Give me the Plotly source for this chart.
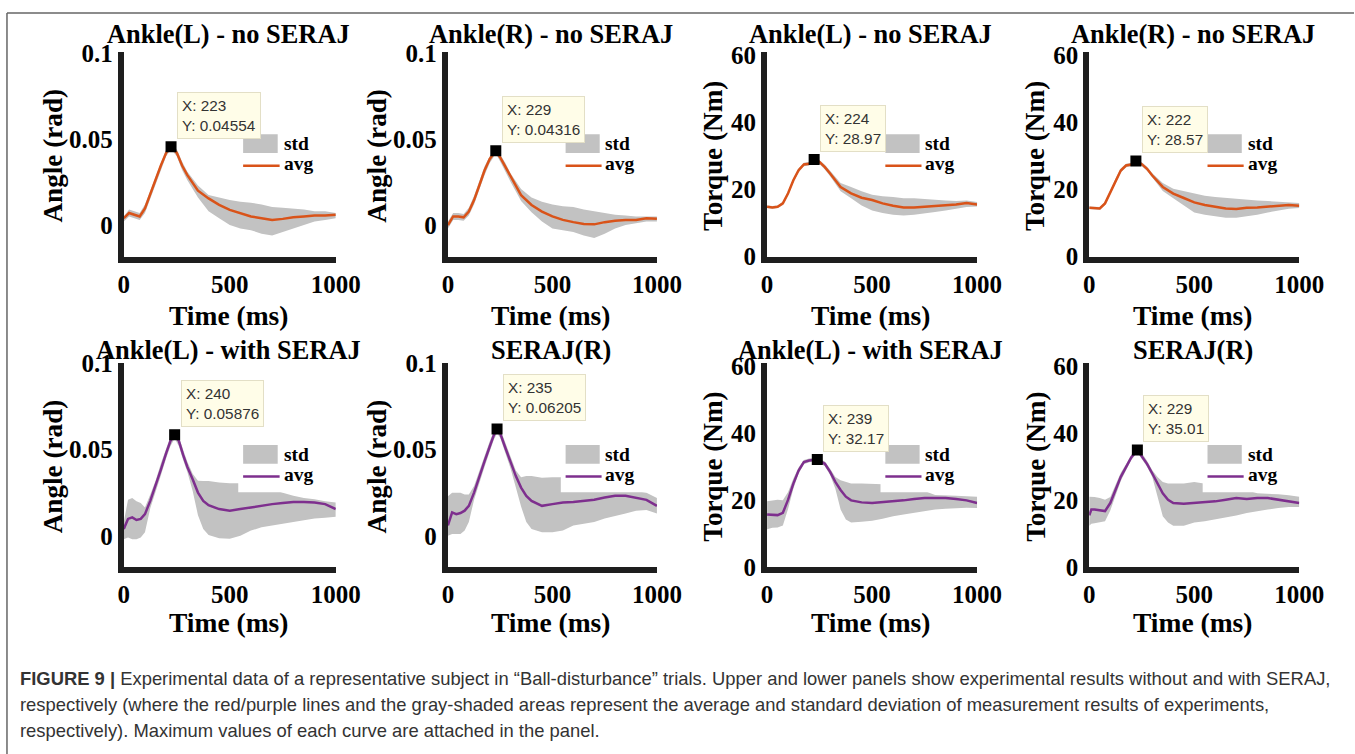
import plotly.graph_objects as go

# ---------------- data ----------------
titles = ["Ankle(L) - no SERAJ", "Ankle(R) - no SERAJ", "Ankle(L) - no SERAJ", "Ankle(R) - no SERAJ",
          "Ankle(L) - with SERAJ", "SERAJ(R)", "Ankle(L) - with SERAJ", "SERAJ(R)"]
ylabels = ["Angle (rad)", "Angle (rad)", "Torque (Nm)", "Torque (Nm)",
           "Angle (rad)", "Angle (rad)", "Torque (Nm)", "Torque (Nm)"]
xlabel = "Time (ms)"
x_ticks = [0, 500, 1000]
angle_ticks = [0, 0.05, 0.1]
angle_ticktext = ["0", "0.05", "0.1"]
torque_ticks = [0, 20, 40, 60]

peak_x = [223, 229, 224, 222, 240, 235, 239, 229]
peak_y = ["0.04554", "0.04316", "28.97", "28.57", "0.05876", "0.06205", "32.17", "35.01"]

# Panel 1: Ankle(L) angle, no SERAJ
t1 = [0, 25, 50, 75, 100, 125, 150, 175, 200, 223, 250, 275, 300, 350, 400, 450, 500, 550, 600, 650, 700, 750, 800, 850, 900, 950, 1000]
avg1 = [0.004, 0.007, 0.006, 0.005, 0.0097, 0.018, 0.027, 0.0346, 0.042, 0.04554, 0.042, 0.0346, 0.029, 0.020, 0.0155, 0.0117, 0.0088, 0.0069, 0.005, 0.004, 0.003, 0.0036, 0.0046, 0.005, 0.0055, 0.0055, 0.006]
lo1 = [0.002, 0.005, 0.004, 0.003, 0.007, 0.015, 0.024, 0.032, 0.040, 0.0440, 0.040, 0.032, 0.026, 0.016, 0.008, 0.004, 0.000, -0.002, -0.003, -0.005, -0.006, -0.004, -0.002, 0.000, 0.002, 0.003, 0.004]
hi1 = [0.005, 0.009, 0.008, 0.007, 0.012, 0.020, 0.029, 0.037, 0.044, 0.0470, 0.044, 0.037, 0.031, 0.023, 0.0175, 0.016, 0.0145, 0.0135, 0.013, 0.012, 0.0105, 0.010, 0.0095, 0.009, 0.008, 0.008, 0.007]

# Panel 2: Ankle(R) angle, no SERAJ
t2 = [0, 25, 50, 75, 100, 125, 150, 175, 200, 229, 250, 275, 300, 350, 400, 450, 500, 550, 600, 650, 700, 750, 800, 850, 900, 950, 1000]
avg2 = [0.0, 0.005, 0.005, 0.0045, 0.0078, 0.0145, 0.023, 0.0317, 0.0384, 0.04316, 0.0393, 0.0336, 0.0279, 0.0174, 0.0117, 0.0078, 0.005, 0.003, 0.0017, 0.0006, 0.0004, 0.0017, 0.0025, 0.003, 0.003, 0.004, 0.0036]
lo2 = [-0.002, 0.003, 0.003, 0.0025, 0.0055, 0.012, 0.0205, 0.029, 0.036, 0.0415, 0.037, 0.031, 0.025, 0.014, 0.0075, 0.002, -0.002, -0.003, -0.004, -0.006, -0.0075, -0.005, -0.002, 0.000, 0.001, 0.002, 0.002]
hi2 = [0.002, 0.007, 0.007, 0.0065, 0.010, 0.017, 0.0255, 0.034, 0.040, 0.0445, 0.041, 0.036, 0.030, 0.021, 0.016, 0.0135, 0.012, 0.011, 0.0105, 0.009, 0.008, 0.007, 0.006, 0.0055, 0.005, 0.005, 0.005]

# Panel 3: Ankle(L) torque, no SERAJ
t3 = [0, 25, 50, 75, 100, 125, 150, 175, 200, 224, 250, 275, 300, 350, 400, 450, 500, 550, 600, 650, 700, 750, 800, 850, 900, 950, 1000]
avg3 = [14.9, 14.7, 14.9, 15.9, 18.9, 22.8, 25.8, 27.5, 27.7, 28.97, 28.2, 26.7, 24.8, 20.8, 18.9, 17.6, 16.9, 15.9, 15.2, 14.7, 14.7, 14.9, 15.2, 15.4, 15.6, 16.0, 15.6]
lo3 = [14.5, 14.3, 14.5, 15.4, 18.3, 22.2, 25.2, 27.0, 27.2, 28.4, 27.6, 26.0, 24.0, 19.5, 17.4, 15.3, 13.8, 13.0, 12.5, 12.3, 12.5, 12.8, 13.3, 13.8, 14.3, 14.8, 15.0]
hi3 = [15.3, 15.1, 15.3, 16.4, 19.5, 23.4, 26.4, 28.0, 28.3, 29.5, 28.8, 27.4, 25.6, 22.0, 20.8, 19.5, 18.5, 18.0, 17.8, 17.4, 17.4, 17.3, 17.0, 16.8, 16.6, 16.8, 16.3]

# Panel 4: Ankle(R) torque, no SERAJ
t4 = [0, 25, 50, 75, 100, 125, 150, 175, 200, 222, 250, 275, 300, 350, 400, 450, 500, 550, 600, 650, 700, 750, 800, 850, 900, 950, 1000]
avg4 = [14.6, 14.4, 14.4, 15.9, 19.3, 22.7, 25.7, 27.2, 27.5, 28.57, 27.6, 26.2, 24.2, 20.8, 18.8, 17.5, 16.2, 15.4, 14.9, 14.4, 14.2, 14.6, 14.7, 14.9, 15.2, 15.4, 15.2]
lo4 = [14.2, 14.0, 14.0, 15.4, 18.7, 22.1, 25.1, 26.7, 27.0, 28.0, 27.0, 25.6, 23.5, 19.6, 17.4, 15.2, 13.2, 12.5, 12.0, 11.6, 11.6, 12.0, 12.5, 13.2, 13.8, 14.3, 14.5]
hi4 = [15.0, 14.8, 14.8, 16.4, 19.9, 23.3, 26.3, 27.7, 28.0, 29.1, 28.2, 26.8, 24.9, 22.0, 20.3, 19.6, 18.8, 18.2, 17.8, 17.5, 17.2, 17.0, 16.8, 16.6, 16.4, 16.2, 16.0]

# Panel 5: Ankle(L) angle, with SERAJ
t5 = [0, 20, 40, 60, 80, 100, 125, 150, 175, 200, 220, 240, 260, 280, 300, 325, 350, 375, 400, 450, 500, 550, 600, 650, 700, 750, 800, 850, 900, 950, 1000]
avg5 = [0.004, 0.0098, 0.0107, 0.0092, 0.0098, 0.0126, 0.0203, 0.0289, 0.0385, 0.048, 0.055, 0.05876, 0.055, 0.047, 0.040, 0.0328, 0.0251, 0.0203, 0.0178, 0.0155, 0.0146, 0.0155, 0.0165, 0.0174, 0.0184, 0.019, 0.0197, 0.0197, 0.0193, 0.0184, 0.0155]
lo5 = [-0.002, -0.001, -0.002, -0.002, -0.001, 0.002, 0.016, 0.025, 0.035, 0.045, 0.052, 0.0565, 0.052, 0.044, 0.037, 0.026, 0.012, 0.004, 0.0005, -0.0015, -0.0017, 0.000, 0.003, 0.005, 0.006, 0.007, 0.008, 0.009, 0.010, 0.0105, 0.011]
hi5 = [0.008, 0.021, 0.022, 0.020, 0.019, 0.0165, 0.024, 0.032, 0.042, 0.051, 0.0575, 0.061, 0.0575, 0.050, 0.043, 0.036, 0.032, 0.0318, 0.0318, 0.031, 0.0305, 0.0305, 0.029, 0.028, 0.027, 0.025, 0.0232, 0.022, 0.0213, 0.020, 0.0193]

# Panel 6: SERAJ(R) angle
t6 = [0, 20, 40, 60, 80, 100, 125, 150, 175, 200, 220, 235, 250, 275, 300, 325, 350, 375, 400, 450, 500, 550, 600, 650, 700, 750, 800, 850, 900, 950, 1000]
avg6 = [0.006, 0.0136, 0.0126, 0.0132, 0.0146, 0.0174, 0.0251, 0.0347, 0.0433, 0.0519, 0.0586, 0.06205, 0.0596, 0.051, 0.0423, 0.0347, 0.028, 0.0232, 0.0203, 0.0174, 0.0184, 0.0193, 0.0197, 0.0201, 0.0209, 0.0222, 0.0232, 0.0232, 0.0222, 0.0209, 0.0174]
lo6 = [0.0, 0.001, 0.001, 0.001, 0.003, 0.008, 0.021, 0.031, 0.040, 0.049, 0.056, 0.0595, 0.057, 0.048, 0.039, 0.028, 0.017, 0.008, 0.004, 0.002, 0.002, 0.003, 0.006, 0.007, 0.008, 0.010, 0.0117, 0.013, 0.0146, 0.015, 0.013]
hi6 = [0.023, 0.025, 0.025, 0.025, 0.024, 0.024, 0.029, 0.038, 0.046, 0.055, 0.061, 0.0645, 0.062, 0.054, 0.045, 0.038, 0.034, 0.0347, 0.0347, 0.0337, 0.034, 0.034, 0.031, 0.029, 0.028, 0.027, 0.0255, 0.026, 0.026, 0.025, 0.022]

# Panel 7: Ankle(L) torque, with SERAJ
t7 = [0, 25, 50, 75, 100, 125, 150, 175, 200, 239, 275, 300, 325, 350, 375, 400, 450, 500, 550, 600, 650, 700, 750, 800, 850, 900, 950, 1000]
avg7 = [15.8, 15.6, 15.6, 16.3, 20.2, 25.0, 28.9, 31.4, 31.9, 32.17, 30.9, 28.5, 25.5, 23.1, 21.1, 20.0, 19.4, 19.2, 19.4, 19.7, 20.0, 20.4, 20.7, 20.7, 20.7, 20.4, 20.0, 19.2]
lo7 = [11.4, 11.8, 11.9, 12.5, 17.5, 23.5, 28.0, 30.8, 31.4, 31.6, 30.2, 27.6, 23.5, 17.3, 14.3, 13.4, 13.6, 13.9, 14.5, 15.3, 15.8, 16.3, 16.8, 17.3, 17.5, 17.7, 17.8, 17.7]
hi7 = [19.7, 20.0, 20.2, 20.0, 22.5, 26.5, 29.8, 32.0, 32.5, 32.8, 31.6, 29.4, 27.0, 26.0, 25.5, 25.0, 25.0, 25.0, 24.8, 24.5, 24.0, 23.5, 22.8, 21.6, 21.6, 21.4, 21.2, 21.1]

# Panel 8: SERAJ(R) torque
t8 = [0, 10, 25, 50, 75, 100, 125, 150, 175, 200, 229, 250, 275, 300, 325, 350, 375, 400, 450, 500, 550, 600, 650, 700, 750, 800, 850, 900, 950, 1000]
avg8 = [15.5, 17.3, 17.3, 17.0, 16.8, 19.2, 23.1, 27.0, 29.9, 32.8, 35.01, 33.3, 30.9, 28.0, 25.0, 22.1, 20.2, 19.2, 19.0, 19.2, 19.4, 19.7, 20.2, 20.7, 20.4, 20.7, 20.7, 20.2, 19.7, 19.2]
lo8 = [12.4, 13.0, 13.2, 13.4, 13.8, 17.0, 21.5, 25.8, 29.0, 32.0, 34.3, 32.5, 30.0, 27.0, 21.0, 15.3, 13.4, 12.4, 12.4, 13.4, 13.8, 14.3, 15.0, 15.5, 16.2, 16.8, 17.3, 17.7, 18.0, 18.0]
hi8 = [21.1, 21.1, 21.0, 20.7, 20.2, 21.0, 24.5, 28.2, 30.8, 33.6, 35.7, 34.1, 31.8, 29.0, 27.0, 25.5, 25.0, 25.0, 25.0, 25.5, 25.0, 24.5, 24.0, 23.5, 23.0, 22.1, 22.0, 21.8, 21.5, 21.1]

times = [t1, t2, t3, t4, t5, t6, t7, t8]
avgs = [avg1, avg2, avg3, avg4, avg5, avg6, avg7, avg8]
lows = [lo1, lo2, lo3, lo4, lo5, lo6, lo7, lo8]
highs = [hi1, hi2, hi3, hi4, hi5, hi6, hi7, hi8]

caption_lines = [
    "<b>FIGURE 9 |</b> Experimental data of a representative subject in \u201cBall-disturbance\u201d trials. Upper and lower panels show experimental results without and with SERAJ,",
    "respectively (where the red/purple lines and the gray-shaded areas represent the average and standard deviation of measurement results of experiments,",
    "respectively). Maximum values of each curve are attached in the panel.",
]

# ---------------- style / layout ----------------
ORANGE = "#D95319"
PURPLE = "#7E2F8E"
GRAY = "#C2C2C2"
SERIF = "Liberation Serif, Times New Roman, serif"

# mapping from target-picture pixels to figure pixels (measured from previous renders)
SX, SY = 0.977, 0.964
OX, OY = 7.5, 12.4
FW, FH = 1379, 770


def px(X):
    return (X / SX - OX) / FW


def py(Y):
    return 1 - (Y / SY - OY) / FH


cols_px = [(122, 337), (446, 658), (765, 978), (1087, 1300)]
rows_px = [(52, 259), (362, 569)]
LW = 6

fig = go.Figure()
layout = dict(width=FW, height=FH, autosize=False, margin=dict(l=0, r=0, t=0, b=0),
              paper_bgcolor="white", plot_bgcolor="white", showlegend=False)
shapes, annotations = [], []

for i in range(8):
    r, c = divmod(i, 4)
    n = i + 1
    xa = "x" if n == 1 else f"x{n}"
    ya = "y" if n == 1 else f"y{n}"
    xk = "xaxis" if n == 1 else f"xaxis{n}"
    yk = "yaxis" if n == 1 else f"yaxis{n}"
    x0, x1 = cols_px[c]
    y0, y1 = rows_px[r]
    is_angle = ylabels[i].startswith("Angle")
    color = ORANGE if r == 0 else PURPLE

    layout[xk] = dict(domain=[px(x0) + (LW / 2) / FW, px(x1)], anchor=ya, range=[-0.5, 1000.5],
                      tickvals=x_ticks, ticks="", ticklen=0, showgrid=False, zeroline=False,
                      showline=True, linewidth=LW, linecolor="#1e1e1e",
                      tickfont=dict(family=SERIF, size=25, color="black", weight="bold"),
                      ticklabelstandoff=0)
    if is_angle:
        yd = dict(range=[-0.0184, 0.1005], tickvals=angle_ticks, ticktext=angle_ticktext)
    else:
        yd = dict(range=[0, 61], tickvals=torque_ticks)
    layout[yk] = dict(domain=[py(y1) + (LW / 2) / FH, py(y0)], anchor=xa, ticks="", ticklen=0,
                      showgrid=False, zeroline=False, showline=True, linewidth=LW,
                      linecolor="#1e1e1e",
                      tickfont=dict(family=SERIF, size=25, color="black", weight="bold"),
                      ticklabelstandoff=0, **yd)

    # std band
    fig.add_trace(go.Scatter(x=times[i], y=lows[i], xaxis=xa, yaxis=ya, mode="lines",
                             line=dict(width=0, color=GRAY), hoverinfo="skip"))
    fig.add_trace(go.Scatter(x=times[i], y=highs[i], xaxis=xa, yaxis=ya, mode="lines",
                             line=dict(width=0, color=GRAY), fill="tonexty",
                             fillcolor=GRAY, hoverinfo="skip"))
    # avg
    fig.add_trace(go.Scatter(x=times[i], y=avgs[i], xaxis=xa, yaxis=ya, mode="lines",
                             line=dict(width=2.5, color=color)))
    # peak marker
    fig.add_trace(go.Scatter(x=[peak_x[i]], y=[float(peak_y[i])], xaxis=xa, yaxis=ya,
                             mode="markers",
                             marker=dict(symbol="square", size=11, color="black")))

    # data tip
    annotations.append(dict(x=peak_x[i], y=float(peak_y[i]), xref=xa, yref=ya,
                            text=f"X: {peak_x[i]}<br>Y: {peak_y[i]}", showarrow=False,
                            xanchor="left", yanchor="bottom", xshift=6, yshift=8,
                            align="left", bgcolor="#FFFDE8", bordercolor="#E3DFC6",
                            borderwidth=1, borderpad=4,
                            font=dict(family="Liberation Sans, Arial, sans-serif",
                                      size=15.3, color="#333333")))

    # legend (white background, std patch, avg line)
    xd, ydm = f"{xa} domain", f"{ya} domain"
    shapes.append(dict(type="rect", xref=xd, yref=ydm, x0=0.54, x1=0.99, y0=0.367, y1=0.64,
                       fillcolor="white", line=dict(width=0), layer="above"))
    shapes.append(dict(type="rect", xref=xd, yref=ydm, x0=0.563, x1=0.726, y0=0.507, y1=0.599,
                       fillcolor=GRAY, line=dict(width=0), layer="above"))
    shapes.append(dict(type="line", xref=xd, yref=ydm, x0=0.563, x1=0.735, y0=0.445, y1=0.445,
                       line=dict(color=color, width=2.5), layer="above"))
    for txt, yy in (("std", 0.553), ("avg", 0.455)):
        annotations.append(dict(x=0.744, y=yy, xref=xd, yref=ydm, text=f"<b>{txt}</b>",
                                showarrow=False, xanchor="left", yanchor="middle",
                                font=dict(family=SERIF, size=19.5, color="black")))

    # title
    annotations.append(dict(x=px((x0 + x1) / 2), y=py(34 if r == 0 else 349),
                            xref="paper", yref="paper", text=f"<b>{titles[i]}</b>",
                            showarrow=False, xanchor="center", yanchor="middle",
                            font=dict(family=SERIF, size=26.4, color="black")))
    # y label
    off = 68 if is_angle else 51
    annotations.append(dict(x=px(x0 - off), y=py((y0 + y1) / 2), xref="paper", yref="paper",
                            text=f"<b>{ylabels[i]}</b>", textangle=-90, showarrow=False,
                            xanchor="center", yanchor="middle",
                            font=dict(family=SERIF, size=27.2, color="black")))
    # x label
    annotations.append(dict(x=px((x0 + x1) / 2), y=py(315 if r == 0 else 621),
                            xref="paper", yref="paper", text=f"<b>{xlabel}</b>",
                            showarrow=False, xanchor="center", yanchor="middle",
                            font=dict(family=SERIF, size=27.5, color="black")))

# caption
for line, yc in zip(caption_lines, [677, 703, 729]):
    annotations.append(dict(x=px(19), y=py(yc), xref="paper", yref="paper", text=line,
                            showarrow=False, xanchor="left", yanchor="middle",
                            font=dict(family="Liberation Sans, Arial, sans-serif",
                                      size=18.4, color="#333333")))

# frame (left and top edges)
shapes.append(dict(type="line", xref="paper", yref="paper", x0=1 / FW, x1=1 / FW, y0=0, y1=1 - 1 / FH,
                   line=dict(color="#666666", width=1.5)))
shapes.append(dict(type="line", xref="paper", yref="paper", x0=1 / FW, x1=1, y0=1 - 1 / FH, y1=1 - 1 / FH,
                   line=dict(color="#666666", width=1.5)))

layout["shapes"] = shapes
layout["annotations"] = annotations
fig.update_layout(**layout)
fig.write_html("out.html")
